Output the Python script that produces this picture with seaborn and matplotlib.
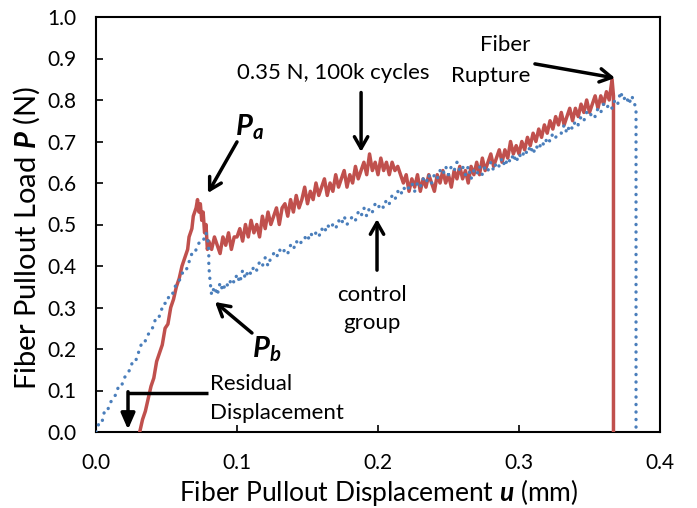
import numpy as np
import pandas as pd
import matplotlib
matplotlib.use("Agg")
import matplotlib.pyplot as plt
import seaborn as sns

# Pullout curve after 0.35 N / 100k cycles (displacement in mm, load in N)
cycled_u = [
    0.031, 0.033, 0.035, 0.037, 0.039, 0.041, 0.043, 0.045, 0.047, 0.049,
    0.051, 0.053, 0.055, 0.057, 0.059, 0.061, 0.063, 0.065, 0.066, 0.068,
    0.069, 0.071, 0.072, 0.073, 0.074, 0.075, 0.076, 0.077, 0.078, 0.079,
    0.080, 0.082, 0.084, 0.086, 0.088, 0.090, 0.092, 0.094, 0.096, 0.098,
    0.100, 0.102, 0.104, 0.106, 0.108, 0.110, 0.112, 0.114, 0.116, 0.118,
    0.120, 0.122, 0.124, 0.126, 0.128, 0.130, 0.132, 0.134, 0.136, 0.138,
    0.140, 0.142, 0.144, 0.146, 0.148, 0.150, 0.152, 0.154, 0.156, 0.158,
    0.160, 0.162, 0.164, 0.166, 0.168, 0.170, 0.172, 0.174, 0.176, 0.178,
    0.180, 0.182, 0.184, 0.186, 0.188, 0.190, 0.192, 0.194, 0.196, 0.198,
    0.200, 0.202, 0.204, 0.206, 0.208, 0.210, 0.212, 0.214, 0.216, 0.218,
    0.220, 0.222, 0.224, 0.226, 0.228, 0.230, 0.232, 0.234, 0.236, 0.238,
    0.240, 0.242, 0.244, 0.246, 0.248, 0.250, 0.252, 0.254, 0.256, 0.258,
    0.260, 0.262, 0.264, 0.266, 0.268, 0.270, 0.272, 0.274, 0.276, 0.278,
    0.280, 0.282, 0.284, 0.286, 0.288, 0.290, 0.292, 0.294, 0.296, 0.298,
    0.300, 0.302, 0.304, 0.306, 0.308, 0.310, 0.312, 0.314, 0.316, 0.318,
    0.320, 0.322, 0.324, 0.326, 0.328, 0.330, 0.332, 0.334, 0.336, 0.338,
    0.340, 0.342, 0.344, 0.346, 0.348, 0.350, 0.352, 0.354, 0.356, 0.358,
    0.360, 0.362, 0.364, 0.366, 0.367, 0.367,
]
cycled_p = [
    0.00, 0.03, 0.05, 0.08, 0.11, 0.13, 0.17, 0.19, 0.21, 0.25,
    0.26, 0.30, 0.32, 0.35, 0.37, 0.40, 0.42, 0.44, 0.47, 0.49,
    0.52, 0.54, 0.56, 0.53, 0.55, 0.51, 0.53, 0.48, 0.50, 0.44,
    0.46, 0.44, 0.47, 0.45, 0.43, 0.47, 0.45, 0.48, 0.44, 0.47,
    0.47, 0.49, 0.46, 0.50, 0.47, 0.51, 0.48, 0.50, 0.47, 0.52,
    0.49, 0.53, 0.50, 0.52, 0.54, 0.50, 0.54, 0.55, 0.52, 0.56,
    0.53, 0.57, 0.54, 0.56, 0.59, 0.55, 0.58, 0.56, 0.60, 0.57,
    0.59, 0.61, 0.57, 0.60, 0.58, 0.62, 0.59, 0.61, 0.63, 0.59,
    0.62, 0.60, 0.64, 0.61, 0.63, 0.65, 0.62, 0.67, 0.63, 0.65,
    0.62, 0.66, 0.63, 0.65, 0.62, 0.65, 0.63, 0.64, 0.62, 0.60,
    0.62, 0.58, 0.61, 0.59, 0.62, 0.58, 0.61, 0.59, 0.62, 0.60,
    0.58, 0.62, 0.60, 0.63, 0.60, 0.62, 0.59, 0.63, 0.61, 0.64,
    0.61, 0.63, 0.60, 0.64, 0.62, 0.65, 0.62, 0.66, 0.63, 0.65,
    0.67, 0.64, 0.66, 0.68, 0.65, 0.68, 0.66, 0.70, 0.67, 0.69,
    0.67, 0.70, 0.68, 0.71, 0.69, 0.72, 0.70, 0.73, 0.71, 0.74,
    0.72, 0.75, 0.73, 0.76, 0.74, 0.77, 0.74, 0.76, 0.78, 0.75,
    0.78, 0.76, 0.79, 0.77, 0.80, 0.77, 0.79, 0.81, 0.78, 0.81,
    0.79, 0.82, 0.80, 0.85, 0.81, 0.00,
]

# Control group pullout curve
control_u = [
    0.000, 0.002, 0.004, 0.006, 0.008, 0.010, 0.012, 0.014, 0.016, 0.018,
    0.020, 0.022, 0.024, 0.026, 0.028, 0.030, 0.032, 0.034, 0.036, 0.038,
    0.040, 0.042, 0.044, 0.046, 0.048, 0.050, 0.052, 0.054, 0.056, 0.058,
    0.060, 0.062, 0.064, 0.066, 0.068, 0.070, 0.072, 0.074, 0.076, 0.078,
    0.079, 0.080, 0.080, 0.081, 0.082, 0.084, 0.086, 0.088, 0.090, 0.092,
    0.094, 0.096, 0.098, 0.100, 0.102, 0.104, 0.106, 0.108, 0.110, 0.112,
    0.114, 0.116, 0.118, 0.120, 0.122, 0.124, 0.126, 0.128, 0.130, 0.132,
    0.134, 0.136, 0.138, 0.140, 0.142, 0.144, 0.146, 0.148, 0.150, 0.152,
    0.154, 0.156, 0.158, 0.160, 0.162, 0.164, 0.166, 0.168, 0.170, 0.172,
    0.174, 0.176, 0.178, 0.180, 0.182, 0.184, 0.186, 0.188, 0.190, 0.192,
    0.194, 0.196, 0.198, 0.200, 0.202, 0.204, 0.206, 0.208, 0.210, 0.212,
    0.214, 0.216, 0.218, 0.220, 0.222, 0.224, 0.226, 0.228, 0.230, 0.232,
    0.234, 0.236, 0.238, 0.240, 0.242, 0.244, 0.246, 0.248, 0.250, 0.252,
    0.254, 0.256, 0.258, 0.260, 0.262, 0.264, 0.266, 0.268, 0.270, 0.272,
    0.274, 0.276, 0.278, 0.280, 0.282, 0.284, 0.286, 0.288, 0.290, 0.292,
    0.294, 0.296, 0.298, 0.300, 0.302, 0.304, 0.306, 0.308, 0.310, 0.312,
    0.314, 0.316, 0.318, 0.320, 0.322, 0.324, 0.326, 0.328, 0.330, 0.332,
    0.334, 0.336, 0.338, 0.340, 0.342, 0.344, 0.346, 0.348, 0.350, 0.352,
    0.354, 0.356, 0.358, 0.360, 0.362, 0.364, 0.366, 0.368, 0.370, 0.372,
    0.374, 0.376, 0.378, 0.380, 0.382, 0.383, 0.383,
]
control_p = [
    0.00, 0.02, 0.02, 0.05, 0.05, 0.07, 0.08, 0.09, 0.11, 0.11,
    0.13, 0.14, 0.15, 0.17, 0.17, 0.19, 0.21, 0.21, 0.23, 0.24,
    0.25, 0.27, 0.27, 0.29, 0.31, 0.31, 0.33, 0.33, 0.35, 0.36,
    0.37, 0.39, 0.39, 0.41, 0.43, 0.43, 0.45, 0.46, 0.46, 0.48,
    0.47, 0.44, 0.40, 0.36, 0.33, 0.35, 0.33, 0.36, 0.34, 0.36,
    0.35, 0.37, 0.36, 0.38, 0.36, 0.39, 0.37, 0.39, 0.38, 0.40,
    0.39, 0.41, 0.40, 0.42, 0.40, 0.42, 0.43, 0.42, 0.44, 0.43,
    0.44, 0.43, 0.45, 0.44, 0.46, 0.45, 0.46, 0.47, 0.46, 0.48,
    0.47, 0.48, 0.47, 0.49, 0.48, 0.50, 0.49, 0.50, 0.49, 0.51,
    0.50, 0.52, 0.50, 0.51, 0.52, 0.51, 0.53, 0.52, 0.54, 0.52,
    0.54, 0.53, 0.55, 0.54, 0.55, 0.54, 0.56, 0.55, 0.57, 0.56,
    0.58, 0.57, 0.59, 0.58, 0.59, 0.60, 0.58, 0.60, 0.59, 0.61,
    0.60, 0.62, 0.60, 0.62, 0.61, 0.63, 0.62, 0.64, 0.62, 0.64,
    0.63, 0.65, 0.63, 0.64, 0.62, 0.64, 0.61, 0.63, 0.62, 0.64,
    0.62, 0.64, 0.63, 0.65, 0.63, 0.65, 0.64, 0.66, 0.64, 0.66,
    0.65, 0.67, 0.65, 0.67, 0.66, 0.68, 0.67, 0.69, 0.67, 0.69,
    0.68, 0.70, 0.69, 0.71, 0.70, 0.72, 0.71, 0.72, 0.72, 0.74,
    0.72, 0.74, 0.73, 0.75, 0.74, 0.76, 0.75, 0.77, 0.76, 0.77,
    0.76, 0.78, 0.77, 0.79, 0.78, 0.79, 0.78, 0.80, 0.79, 0.82,
    0.80, 0.81, 0.79, 0.81, 0.79, 0.78, 0.00,
]

x_ticks = [0.0, 0.1, 0.2, 0.3, 0.4]
y_ticks = [0.0, 0.1, 0.2, 0.3, 0.4, 0.5, 0.6, 0.7, 0.8, 0.9, 1.0]

RED = "#C0504D"
BLUE = "#4A7EBB"

sns.set_theme(style="ticks")
plt.rcParams["font.family"] = ["Lato", "DejaVu Sans"]
plt.rcParams["mathtext.fontset"] = "custom"
plt.rcParams["mathtext.rm"] = "Lato"
plt.rcParams["mathtext.it"] = "Lato:italic"
plt.rcParams["mathtext.bf"] = "Lato:bold"
plt.rcParams["mathtext.bfit"] = "Lato:bold:italic"

cycled = pd.DataFrame({"u": cycled_u, "p": cycled_p})
control = pd.DataFrame({"u": control_u, "p": control_p})

fig = plt.figure(figsize=(6.97, 5.08), dpi=100)
ax = fig.add_axes([96 / 697, 1 - 432 / 508, 564 / 697, 415 / 508])

sns.lineplot(data=cycled, x="u", y="p", ax=ax, sort=False, estimator=None,
             color=RED, linewidth=2.5, zorder=3)
sns.lineplot(data=control, x="u", y="p", ax=ax, sort=False, estimator=None,
             color=BLUE, linewidth=2.4, linestyle=(0, (0.05, 2.2)),
             dash_capstyle="round", zorder=4)

ax.set_xlim(0, 0.4)
ax.set_ylim(0, 1.0)
ax.set_xticks(x_ticks)
ax.set_yticks(y_ticks)
ax.set_xticklabels([f"{v:.1f}" for v in x_ticks])
ax.set_yticklabels([f"{v:.1f}" for v in y_ticks])
ax.tick_params(axis="both", direction="in", length=5, width=1.2,
               color="black", labelsize=15, labelcolor="black")
ax.tick_params(axis="x", pad=15)
ax.tick_params(axis="y", pad=14)
for s in ax.spines.values():
    s.set_visible(True)
    s.set_color("black")
    s.set_linewidth(1.5)

ax.set_xlabel(r"Fiber Pullout Displacement $\mathbfit{u}$ (mm)", fontsize=19,
              color="black")
ax.set_ylabel(r"Fiber Pullout Load $\mathbfit{P}$ (N)", fontsize=21,
              color="black")
ax.xaxis.set_label_coords(0.501, -0.108)
ax.yaxis.set_label_coords(-0.096, 0.467)

arrow_kw = dict(arrowstyle="->,head_length=0.7,head_width=0.4", color="black",
                lw=2.5, shrinkA=0, shrinkB=0)
txt_kw = dict(fontsize=16, color="black")

# Fiber rupture
ax.text(0.3078, 0.9325, "Fiber", ha="right", va="center", **txt_kw)
ax.text(0.3078, 0.858, "Rupture", ha="right", va="center", **txt_kw)
ax.annotate("", xy=(0.3681, 0.853), xytext=(0.3113, 0.887), arrowprops=arrow_kw)

# Loading condition label
ax.text(0.168, 0.865, "0.35 N, 100k cycles", ha="center", va="center", **txt_kw)
ax.annotate("", xy=(0.188, 0.675), xytext=(0.188, 0.818), arrowprops=arrow_kw)

# Peak load P_a
ax.text(0.109, 0.735, r"$\mathbfit{P}_{\mathbfit{a}}$", ha="center", va="center",
        fontsize=21, color="black")
ax.annotate("", xy=(0.0794, 0.576), xytext=(0.100, 0.699), arrowprops=arrow_kw)

# Post-debond load P_b
ax.text(0.121, 0.200, r"$\mathbfit{P}_{\mathbfit{b}}$", ha="center", va="center",
        fontsize=21, color="black")
ax.annotate("", xy=(0.0844, 0.3133), xytext=(0.1106, 0.2386), arrowprops=arrow_kw)

# Control group
ax.text(0.1957, 0.330, "control", ha="center", va="center", **txt_kw)
ax.text(0.1957, 0.263, "group", ha="center", va="center", **txt_kw)
ax.annotate("", xy=(0.1993, 0.513), xytext=(0.1993, 0.390), arrowprops=arrow_kw)

# Residual displacement (elbow arrow)
ax.text(0.0809, 0.1157, "Residual", ha="left", va="center", **txt_kw)
ax.text(0.0809, 0.0458, "Displacement", ha="left", va="center", **txt_kw)
ax.plot([0.0794, 0.0227], [0.094, 0.094], color="black", lw=2.5,
        solid_capstyle="butt", zorder=5)
ax.annotate("", xy=(0.0227, 0.006), xytext=(0.0227, 0.097),
            arrowprops=dict(arrowstyle="-|>,head_length=0.8,head_width=0.35",
                            color="black", lw=2.5, shrinkA=0, shrinkB=0))

fig.savefig("out.png", dpi=100, facecolor="white")
